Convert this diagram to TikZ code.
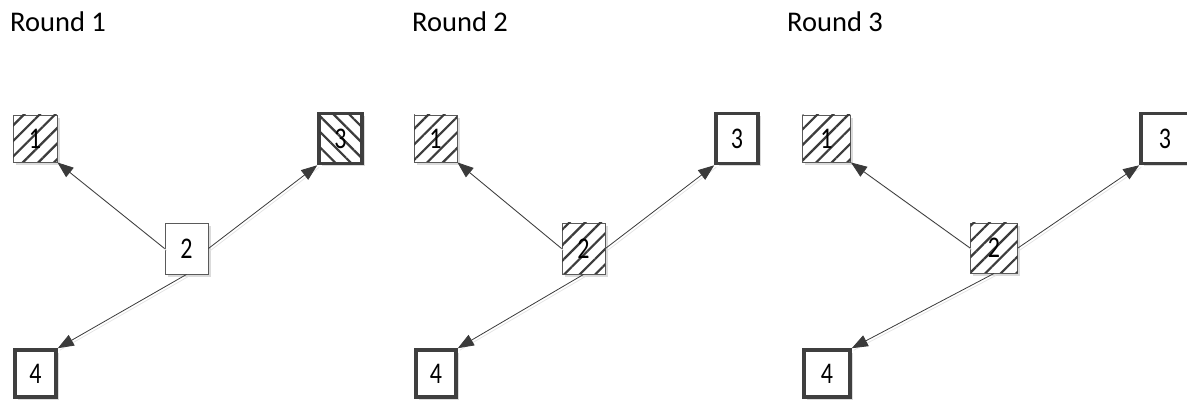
\documentclass[tikz,border=0pt]{standalone}
\usepackage{fontspec}
\setmainfont{Carlito}
\newfontfamily\digitfont[FakeStretch=0.8]{Carlito}
\usetikzlibrary{patterns.meta,arrows.meta,shadows}

\definecolor{thinedge}{HTML}{5A5A5A}
\definecolor{thickedge}{HTML}{3F3F3F}
\definecolor{linkgray}{HTML}{3A3A3A}
\definecolor{hatchgray}{HTML}{3C3C3C}

\tikzset{
  roundtitle/.style={anchor=base west, inner sep=0pt, font=\fontsize{28.5}{28.5}\selectfont},
  box/.style={rectangle, inner sep=0pt, fill=white,
    font=\digitfont\fontsize{30}{30}\selectfont,
    drop shadow={shadow xshift=2.5pt, shadow yshift=-3pt, fill=black!14, opacity=1}},
  thinbox/.style={box, draw=thinedge, line width=0.9pt},
  thickbox/.style={box, draw=thickedge, line width=3.6pt},
  hatchup/.style={postaction={pattern={Lines[angle=45,distance=11pt,line width=2.2pt]}, pattern color=hatchgray}},
  hatchdown/.style={postaction={pattern={Lines[angle=-45,distance=11pt,line width=2.2pt]}, pattern color=hatchgray}},
  link/.style={draw=linkgray, line width=0.8pt,
    -{Triangle[length=16pt,width=12pt]},
    preaction={draw=black!10, line width=0.8pt, -, transform canvas={xshift=2pt,yshift=-2pt}}},
}

\begin{document}
\begin{tikzpicture}[x=1pt,y=-1pt]
\useasboundingbox (0,0) rectangle (1187,403);

% ---------- Round 1 ----------
\node[roundtitle] (t1) at (10,32) {Round 1};
\node[thinbox, hatchup, minimum width=44pt, minimum height=47pt] (a1) at (35,138.5) {1};
\node[thinbox, minimum width=43pt, minimum height=51pt] (a2) at (186.5,248.5) {2};
\node[thickbox, hatchdown, minimum width=43pt, minimum height=50pt] (a3) at (340.5,138.5) {3};
\node[thickbox, minimum width=41pt, minimum height=47pt] (a4) at (35.5,373.5) {4};
\draw[link] (a2.west) -- (a1.south east);
\draw[link] (a2.east) -- (a3.south west);
\draw[link] (a2.south) -- (a4.north east);

% ---------- Round 2 ----------
\node[roundtitle] (t2) at (412,32) {Round 2};
\node[thinbox, hatchup, minimum width=43pt, minimum height=47pt] (b1) at (435.5,138.5) {1};
\node[thinbox, hatchup, minimum width=43pt, minimum height=51pt] (b2) at (583.5,248.5) {2};
\node[thickbox, minimum width=42pt, minimum height=50pt] (b3) at (737,138.5) {3};
\node[thickbox, minimum width=40pt, minimum height=47pt] (b4) at (436,373.5) {4};
\draw[link] (b2.west) -- (b1.south east);
\draw[link] (b2.east) -- (b3.south west);
\draw[link] (b2.south) -- (b4.north east);

% ---------- Round 3 ----------
\node[roundtitle] (t3) at (787,32) {Round 3};
\node[thinbox, hatchup, minimum width=48pt, minimum height=47pt] (c1) at (826.5,138.5) {1};
\node[thinbox, hatchup, minimum width=47pt, minimum height=50pt] (c2) at (994,248) {2};
\node[thickbox, minimum width=48pt, minimum height=50pt] (c3) at (1165,138.5) {3};
\node[thickbox, minimum width=46pt, minimum height=47pt] (c4) at (827,373.5) {4};
\draw[link] (c2.west) -- (c1.south east);
\draw[link] (c2.east) -- (c3.south west);
\draw[link] (c2.south) -- (c4.north east);
\end{tikzpicture}
\end{document}
